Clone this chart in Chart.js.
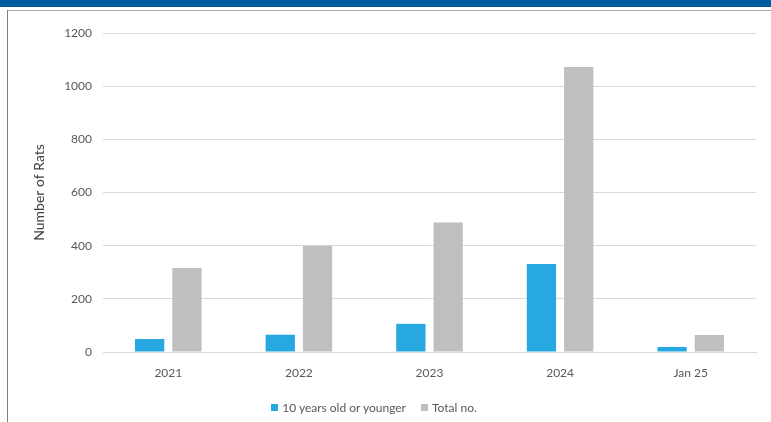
<!DOCTYPE html>
<html>
<head>
<meta charset="utf-8">
<script src="https://cdn.jsdelivr.net/npm/chart.js@4/dist/chart.umd.min.js"></script>
<style>
  html, body { margin: 0; padding: 0; background: #ffffff; }
  body { width: 771px; height: 422px; position: relative; overflow: hidden; font-family: Lato, "Open Sans", sans-serif; }
  #banner { position: absolute; left: 0; top: 0; width: 771px; height: 7px; background: #005b9c; }
  #topRule { position: absolute; left: 7px; top: 10px; width: 764px; height: 1px; background: #a6a6a6; }
  #leftRule { position: absolute; left: 7px; top: 10px; width: 1px; height: 412px; background: #7f7f7f; }
  #wrap { position: absolute; left: 8px; top: 11px; width: 763px; height: 411px; }
  #legend { position: absolute; left: 0; top: 400px; width: 763px; display: flex; justify-content: center; gap: 15px;
            font-size: 12px; color: #595959; padding-right: 15px; box-sizing: border-box; }
  .item { display: flex; align-items: center; }
  .sw { width: 7px; height: 7px; margin-right: 4px; }
</style>
</head>
<body>
<div id="banner"></div>
<div id="topRule"></div>
<div id="leftRule"></div>
<div id="wrap"><canvas id="chart" width="763" height="411"></canvas></div>
<div id="legend"></div>
<script>
// Rat counts per year
const categories = ['2021', '2022', '2023', '2024', 'Jan 25'];
const youngCounts = [49, 65, 106, 331, 19];
const totalCounts = [316, 400, 487, 1072, 64];
const seriesNames = ['10 years old or younger', 'Total no.'];
const yTicks = [0, 200, 400, 600, 800, 1000, 1200];

const colors = ['#27a8e0', '#bfbfbf'];
const tickColor = '#595959';
const gridColor = '#d9d9d9';

const chart = new Chart(document.getElementById('chart'), {
  type: 'bar',
  data: {
    labels: categories,
    datasets: [
      { label: seriesNames[0], data: youngCounts, backgroundColor: colors[0] },
      { label: seriesNames[1], data: totalCounts, backgroundColor: colors[1] }
    ]
  },
  options: {
    responsive: false,
    maintainAspectRatio: false,
    animation: false,
    devicePixelRatio: 1,
    categoryPercentage: 0.571,
    barPercentage: 0.785,
    layout: { padding: { top: 22, right: 15, left: 0, bottom: 0 } },
    plugins: { legend: { display: false }, tooltip: { enabled: false } },
    scales: {
      x: {
        grid: { display: false, drawTicks: false },
        border: { display: true, color: gridColor, width: 1 },
        ticks: { color: tickColor, font: { family: 'Lato', size: 12 }, padding: 14 },
        afterFit(scale) { scale.height = 70; }
      },
      y: {
        min: 0,
        max: 1200,
        afterBuildTicks(scale) { scale.ticks = yTicks.map(v => ({ value: v })); },
        grid: { color: gridColor, drawTicks: false },
        border: { display: false },
        ticks: {
          color: tickColor,
          font: { family: 'Lato', size: 12 },
          padding: 11,
          callback: (v) => String(v)
        },
        title: {
          display: true,
          text: 'Number of Rats',
          color: '#404040',
          font: { family: 'Lato', size: 14 },
          padding: { top: 23, bottom: 0 }
        },
        afterFit(scale) { scale.width = 95; }
      }
    }
  }
});

// Legend built from the dataset names and colours
const legend = document.getElementById('legend');
seriesNames.forEach((name, i) => {
  const item = document.createElement('div');
  item.className = 'item';
  const sw = document.createElement('span');
  sw.className = 'sw';
  sw.style.background = colors[i];
  const txt = document.createElement('span');
  txt.textContent = name;
  item.appendChild(sw);
  item.appendChild(txt);
  legend.appendChild(item);
});
</script>
</body>
</html>
